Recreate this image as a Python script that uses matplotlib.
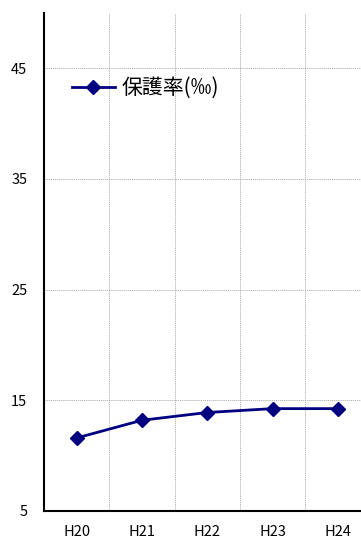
import matplotlib
matplotlib.use("Agg")
import matplotlib.pyplot as plt
from matplotlib.ticker import FixedLocator

plt.rcParams['font.family'] = ['Noto Sans CJK JP', 'DejaVu Sans']

categories = ["H20", "H21", "H22", "H23", "H24"]
values = [11.6, 13.2, 13.9, 14.25, 14.25]
yticks = [5, 15, 25, 35, 45]
series_name = "保護率(‰)"

fig = plt.figure(figsize=(3.61, 5.38), dpi=100)
W, H = 361, 538
left, right, top, bottom = 44, 370.5, 13, 511
ax = fig.add_axes([left / W, 1 - bottom / H, (right - left) / W, (bottom - top) / H])

x = list(range(len(categories)))
ax.plot(x, values, color="#000080", lw=2, marker="D", markersize=7.5,
        label=series_name, zorder=3)

ax.set_xlim(-0.5, len(categories) - 0.5)
ax.set_ylim(5, 50)
ax.set_yticks(yticks)
ax.set_xticks(x)
ax.set_xticklabels(categories)
ax.xaxis.set_minor_locator(FixedLocator([i + 0.5 for i in range(len(categories) - 1)]))
ax.grid(axis="y", which="major", color="#aaaaaa", ls=(0, (1.5, 1)), lw=0.6)
ax.grid(axis="x", which="minor", color="#aaaaaa", ls=(0, (1.5, 1)), lw=0.6)
ax.tick_params(axis="y", which="both", length=0, labelsize=10.5, pad=12)
ax.tick_params(axis="x", which="both", length=0, labelsize=10.5, pad=10)
for s in ["top", "right"]:
    ax.spines[s].set_visible(False)
for s in ["left", "bottom"]:
    ax.spines[s].set_color("black")
    ax.spines[s].set_linewidth(1.5)

leg = ax.legend(loc="center left", bbox_to_anchor=((72 - left) / (right - left), (bottom - 88) / (bottom - top)),
                frameon=False, fontsize=15, handlelength=2.05, handletextpad=0.35,
                borderpad=0, borderaxespad=0)

fig.savefig("out.png", dpi=100)
